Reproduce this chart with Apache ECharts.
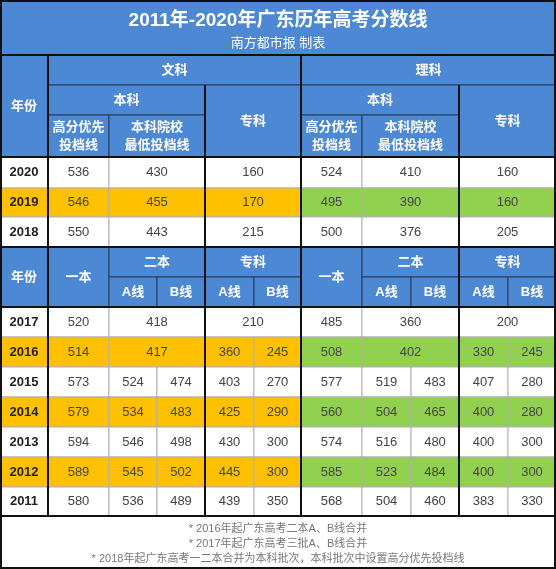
<!DOCTYPE html>
<html><head><meta charset="utf-8">
<script src="https://cdn.jsdelivr.net/npm/echarts@6/dist/echarts.min.js"></script>
<style>html,body{margin:0;padding:0;background:#fff}#c{width:556px;height:569px}</style>
</head><body><div id="c"></div>
<script>
var title='2011年-2020年广东历年高考分数线';
var subtitle='南方都市报 制表';
var notes=['* 2016年起广东高考二本A、B线合并','* 2017年起广东高考三批A、B线合并','* 2018年起广东高考一二本合并为本科批次，本科批次中设置高分优先投档线'];
var upperYears=[2020,2019,2018];
var wenHigh=[536,546,550], wenBen=[430,455,443], wenZhuan=[160,170,215];
var liHigh=[524,495,500], liBen=[410,390,376], liZhuan=[160,160,205];
var lowerYears=[2017,2016,2015,2014,2013,2012,2011];
var wenYi=[520,514,573,579,594,589,580];
var wenErA=[418,417,524,534,546,545,536], wenErB=[null,null,474,483,498,502,489];
var wenZhA=[210,360,403,425,430,445,439], wenZhB=[null,245,270,290,300,300,350];
var liYi=[485,508,577,560,574,585,568];
var liErA=[360,402,519,504,516,523,504], liErB=[null,null,483,465,480,484,460];
var liZhA=[200,330,407,400,400,400,383], liZhB=[null,245,280,280,300,300,330];
var highlightYears=[2019,2016,2014,2012];

var BLUE='#4d88d4', ORANGE='#ffc000', GREEN='#92d050';
var F='"Liberation Sans","Noto Sans CJK SC",sans-serif';
var cells=[]; // [x0,x1,y0,y1,text,fill,kind]
function C(x0,x1,y0,y1,t,fill,kind){cells.push([x0,x1,y0,y1,t,fill,kind]);}
C(0,556,0,55,'',BLUE,'t');
C(0,48,55,157,'年份',BLUE,'h');
C(48,301,55,85,'文科',BLUE,'h'); C(301,556,55,85,'理科',BLUE,'h');
C(48,205,85,115,'本科',BLUE,'h'); C(205,301,85,157,'专科',BLUE,'h');
C(301,459,85,115,'本科',BLUE,'h'); C(459,556,85,157,'专科',BLUE,'h');
C(48,109,115,157,'高分优先\n投档线',BLUE,'h'); C(109,205,115,157,'本科院校\n最低投档线',BLUE,'h');
C(301,362,115,157,'高分优先\n投档线',BLUE,'h'); C(362,459,115,157,'本科院校\n最低投档线',BLUE,'h');
var ur=[157,188,217,247];
upperYears.forEach(function(y,i){
  var hl=highlightYears.indexOf(y)>=0, a=hl?ORANGE:'#fff', b=hl?GREEN:'#fff';
  var y0=ur[i],y1=ur[i+1];
  C(0,48,y0,y1,String(y),a,'y');
  C(48,109,y0,y1,wenHigh[i],a,'d'); C(109,205,y0,y1,wenBen[i],a,'d'); C(205,301,y0,y1,wenZhuan[i],a,'d');
  C(301,362,y0,y1,liHigh[i],b,'d'); C(362,459,y0,y1,liBen[i],b,'d'); C(459,556,y0,y1,liZhuan[i],b,'d');
});
C(0,48,247,307,'年份',BLUE,'h'); C(48,109,247,307,'一本',BLUE,'h');
C(109,205,247,277,'二本',BLUE,'h'); C(205,301,247,277,'专科',BLUE,'h');
C(301,362,247,307,'一本',BLUE,'h');
C(362,459,247,277,'二本',BLUE,'h'); C(459,556,247,277,'专科',BLUE,'h');
[[109,157],[157,205],[205,254],[254,301],[362,411],[411,459],[459,508],[508,556]].forEach(function(p,k){
  C(p[0],p[1],277,307,k%2?'B线':'A线',BLUE,'h');
});
var lr=[307,337,367,397,427,457,487,516];
function pair(x0,xm,x1,y0,y1,A,B,f){
  if(B==null) C(x0,x1,y0,y1,A,f,'d'); else {C(x0,xm,y0,y1,A,f,'d'); C(xm,x1,y0,y1,B,f,'d');}
}
lowerYears.forEach(function(y,i){
  var hl=highlightYears.indexOf(y)>=0, a=hl?ORANGE:'#fff', b=hl?GREEN:'#fff';
  var y0=lr[i],y1=lr[i+1];
  C(0,48,y0,y1,String(y),a,'y');
  C(48,109,y0,y1,wenYi[i],a,'d');
  pair(109,157,205,y0,y1,wenErA[i],wenErB[i],a);
  pair(205,254,301,y0,y1,wenZhA[i],wenZhB[i],a);
  C(301,362,y0,y1,liYi[i],b,'d');
  pair(362,411,459,y0,y1,liErA[i],liErB[i],b);
  pair(459,508,556,y0,y1,liZhA[i],liZhB[i],b);
});
C(0,556,516,569,'','#fff','f');
var thick=[[48,55,48,516],[205,85,205,516],[301,55,301,516],[459,85,459,516],
  [0,55,556,55],[0,157,556,157],[0,247,556,247],[0,307,556,307],[0,516,556,516],
  [1,0,1,569],[555,0,555,569],[0,568,556,568],[0,1,556,1]];

var chart=echarts.init(document.getElementById('c'));
chart.setOption({
  animation:false,
  grid:{left:0,right:0,top:0,bottom:0},
  xAxis:{type:'value',min:0,max:556,show:false},
  yAxis:{type:'value',min:0,max:569,inverse:true,show:false},
  series:[{
    type:'custom',data:cells,
    renderItem:function(p,api){
      var d=cells[p.dataIndex];
      var a=api.coord([d[0],d[2]]), b=api.coord([d[1],d[3]]);
      var kind=d[6], ch=[];
      ch.push({type:'rect',shape:{x:a[0],y:a[1],width:b[0]-a[0],height:b[1]-a[1]},
        style:{fill:d[5],stroke:kind==='h'?'#2a3a55':'#b0b0b0',lineWidth:kind==='t'?0:1}});
      var cx=(a[0]+b[0])/2, cy=(a[1]+b[1])/2;
      if(kind==='t'){
        ch.push({type:'text',style:{text:title,x:cx,y:a[1]+21,align:'center',verticalAlign:'middle',fill:'#fff',font:'bold 19px '+F}});
        ch.push({type:'text',style:{text:subtitle,x:cx,y:a[1]+43,align:'center',verticalAlign:'middle',fill:'#fff',font:'13px '+F}});
      } else if(kind==='f'){
        notes.forEach(function(n,k){
          ch.push({type:'text',style:{text:n,x:cx,y:a[1]+13+k*15,align:'center',verticalAlign:'middle',fill:'#777',font:'11px '+F}});
        });
      } else {
        ch.push({type:'text',style:{text:String(d[4]),x:cx,y:cy,align:'center',verticalAlign:'middle',
          fill:kind==='h'?'#fff':(kind==='y'?'#222':'#444'),
          font:(kind==='d'?'':'bold ')+'13px '+F,lineHeight:18}});
      }
      return {type:'group',children:ch};
    }
  },{
    type:'custom',data:thick,
    renderItem:function(p,api){
      var d=thick[p.dataIndex];
      var a=api.coord([d[0],d[1]]), b=api.coord([d[2],d[3]]);
      return {type:'line',shape:{x1:a[0],y1:a[1],x2:b[0],y2:b[1]},style:{stroke:'#111',lineWidth:2}};
    }
  }]
});
</script></body></html>
